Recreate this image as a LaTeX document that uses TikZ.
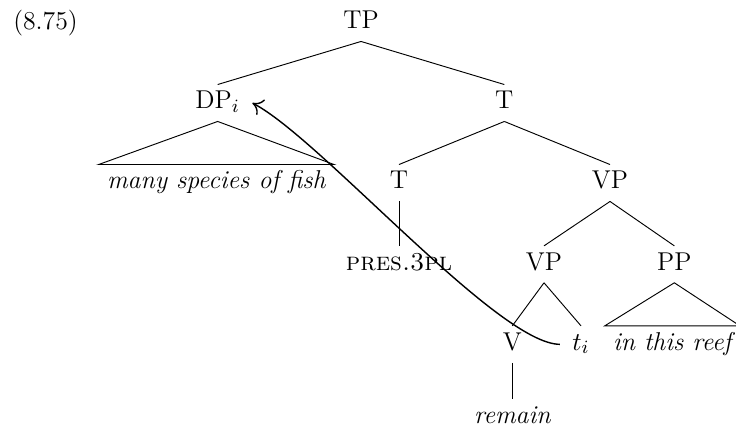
\documentclass[tikz,border=0pt]{standalone}
\usepackage{tikz}
\usetikzlibrary{arrows.meta}

\newcommand\treefont{\fontsize{11}{13}\selectfont}

\begin{document}
\begin{tikzpicture}[
  font=\treefont,
  cat/.style={inner xsep=1.8mm,inner ysep=0pt,minimum height=5.4mm,text height=1.6ex,text depth=.45ex},
  word/.style={cat,inner xsep=1.2mm,font=\treefont\itshape},
  move/.style={semithick,-{To[length=1.5mm,width=2.6mm]}}
]
  \useasboundingbox (-5.415,0.345) rectangle (5.625,-6.135);
  \node[anchor=west] (ex) at (-5.34,0) {(8.75)};
  % categories, level by level
  \node[cat] (tp)   at (0,0)          {TP};
  \node[cat] (dp)   at (-2.15,-1.2)   {DP$_i$};
  \node[cat] (tbar) at (2.15,-1.2)    {T};
  \node[cat] (t)    at (0.57,-2.4)    {T};
  \node[cat] (vp)   at (3.735,-2.4)   {VP};
  \node[cat] (pres) at (0.57,-3.62)   {\textsc{pres.3pl}};
  \node[cat] (vpb)  at (2.745,-3.62)  {VP};
  \node[cat] (pp)   at (4.7,-3.62)    {PP};
  \node[cat] (v)    at (2.27,-4.82)   {V};
  \node[cat] (tr)   at (3.3,-4.82)    {$t_i$};
  % words
  \node[word] (fish)   at (-2.17,-2.4) {many species of fish};
  \node[word] (reef)   at (4.67,-4.82) {in this reef};
  \node[word] (remain) at (2.27,-5.92) {remain};
  % branches
  \draw (tp.south) -- (dp.north);
  \draw (tp.south) -- (tbar.north);
  \draw (tbar.south) -- (t.north);
  \draw (tbar.south) -- (vp.north);
  \draw (t.south) -- (pres.north);
  \draw (vp.south) -- (vpb.north);
  \draw (vp.south) -- (pp.north);
  \draw (vpb.south) -- (v.north);
  \draw (vpb.south) -- (tr.north);
  \draw (v.south) -- (remain.north);
  % roofs
  \draw (dp.south) -- (fish.north west) -- (fish.north east) -- cycle;
  \draw (pp.south) -- (reef.north west) -- (reef.north east) -- cycle;
  % movement
  \draw[move] (tr.west) .. controls +(-0.93,0) and +(1.02,-0.53) .. (dp.east);
\end{tikzpicture}
\end{document}
